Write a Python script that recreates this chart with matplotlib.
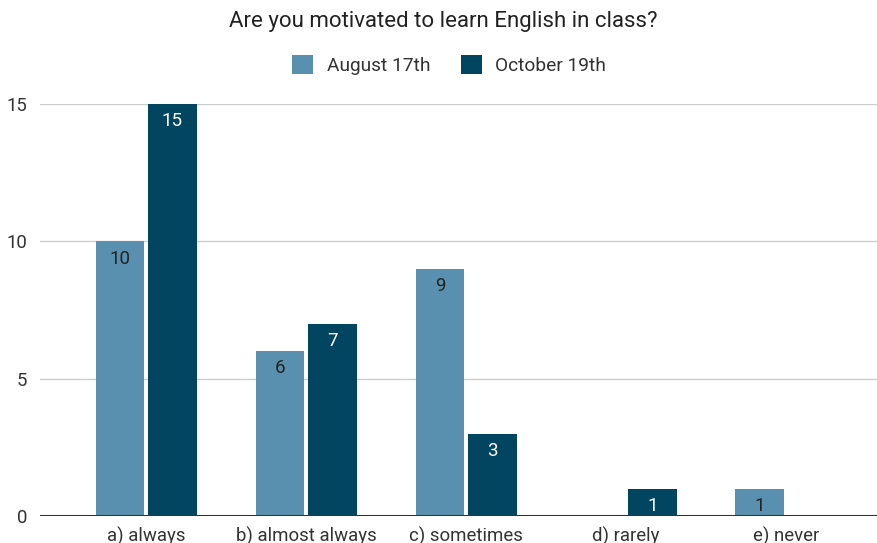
import matplotlib.pyplot as plt
import numpy as np

plt.rcParams['font.family'] = ['Roboto', 'DejaVu Sans']

categories = ["a) always", "b) almost always", "c) sometimes", "d) rarely", "e) never"]
august = [10, 6, 9, 0, 1]
october = [15, 7, 3, 1, 0]
series_names = ["August 17th", "October 19th"]
yticks = [0, 5, 10, 15]

c_aug = "#5990b0"
c_oct = "#024560"

fig = plt.figure(figsize=(8.77, 5.43), dpi=100)
ax = fig.add_axes([40 / 877, 27 / 543, 837 / 877, 412 / 543])

x = np.arange(len(categories))
w = 0.305
b1 = ax.bar(x - 0.163, august, w, color=c_aug, zorder=3, label=series_names[0])
b2 = ax.bar(x + 0.165, october, w, color=c_oct, zorder=3, label=series_names[1])

# value labels inside the top of each bar
for bars, vals, tc in [(b1, august, "#222222"), (b2, october, "white")]:
    for rect, v in zip(bars, vals):
        if v == 0:
            continue
        ax.text(rect.get_x() + rect.get_width() / 2, v - 0.3, str(v),
                ha="center", va="top", fontsize=13.5, color=tc, zorder=4)

ax.set_xlim(-0.6625, 4.569)
ax.set_ylim(0, 15)
ax.set_yticks(yticks)
ax.set_xticks(x)
ax.set_xticklabels(categories)
ax.tick_params(axis="both", length=0, labelsize=13.4, colors="#333333")
ax.tick_params(axis="y", pad=9)
ax.tick_params(axis="x", pad=7.5)
ax.yaxis.grid(True, color="#cccccc", linewidth=1, zorder=0)
for s in ax.spines.values():
    s.set_visible(False)
ax.axhline(0, color="#333333", linewidth=1.5, zorder=5)

fig.text(0.505, 1 - 22 / 543, "Are you motivated to learn English in class?",
         ha="center", va="center", fontsize=16, color="#222222")
fig.legend(loc="center", bbox_to_anchor=(0.512, 1 - 65 / 543), ncol=2,
           frameon=False, handlelength=1.1, handleheight=1.1, fontsize=13.8,
           columnspacing=1.6, handletextpad=0.7, labelcolor="#333333")

fig.savefig("out.png", dpi=100)
